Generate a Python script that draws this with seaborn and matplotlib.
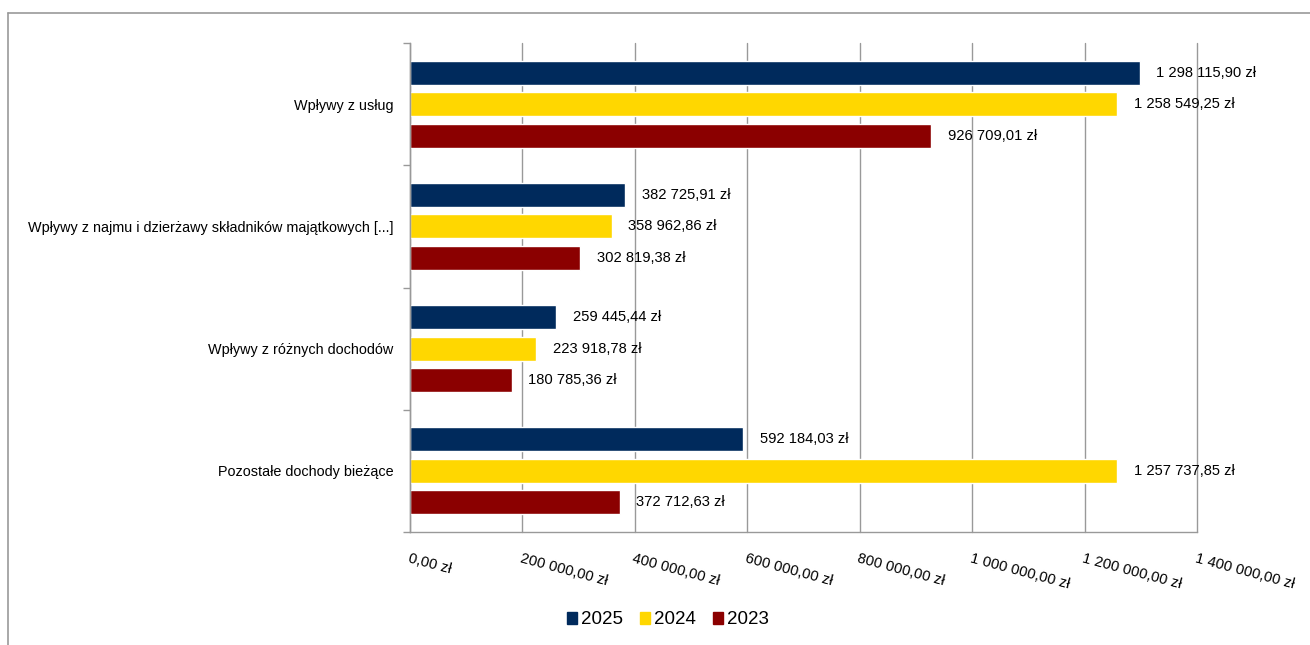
import pandas as pd
import numpy as np
import matplotlib
matplotlib.use('Agg')
import matplotlib.pyplot as plt
import seaborn as sns
from matplotlib.ticker import FuncFormatter
from matplotlib.lines import Line2D

# Dane z wykresu
kategorie = ['Wpływy z usług',
             'Wpływy z najmu i dzierżawy składników majątkowych [...]',
             'Wpływy z różnych dochodów',
             'Pozostałe dochody bieżące']
lata = ['2025', '2024', '2023']
wartosci_2025 = [1298115.90, 382725.91, 259445.44, 592184.03]
wartosci_2024 = [1258549.25, 358962.86, 223918.78, 1257737.85]
wartosci_2023 = [926709.01, 302819.38, 180785.36, 372712.63]
kolory = ['#002A5C', '#FFD700', '#8B0000']


def format_zl(v):
    """Formatuje kwotę w stylu polskim"""
    return f"{v:,.2f}".replace(",", " ").replace(".", ",") + " zł"


df = pd.DataFrame({
    'kategoria': kategorie * 3,
    'rok': ['2025'] * 4 + ['2024'] * 4 + ['2023'] * 4,
    'wartosc': wartosci_2025 + wartosci_2024 + wartosci_2023,
})

sns.set_style('white')
plt.rcParams['font.family'] = ['Liberation Sans', 'DejaVu Sans']
plt.rcParams['text.color'] = 'black'
plt.rcParams['xtick.labelcolor'] = 'black'
plt.rcParams['ytick.labelcolor'] = 'black'

fig = plt.figure(figsize=(13.1, 6.45), dpi=100)
ax = fig.add_axes([410 / 1310, 1 - 532 / 645, 787 / 1310, 489 / 645])

sns.barplot(data=df, y='kategoria', x='wartosc', hue='rok', hue_order=lata,
            order=kategorie, palette=kolory, width=0.775, gap=0.24,
            orient='h', ax=ax, legend=False, saturation=1)

# Etykiety wartości
for cont, rok in zip(ax.containers, lata):
    vals = df[df['rok'] == rok].set_index('kategoria').loc[kategorie, 'wartosc']
    ax.bar_label(cont, labels=[format_zl(v) for v in vals], padding=12,
                 fontsize=10.6, color='black')

ax.set_xlim(0, 1400000)
ax.set_ylim(3.5, -0.5)
ax.set_xticks(np.arange(0, 1400001, 200000))
ax.xaxis.set_major_formatter(FuncFormatter(lambda v, p: format_zl(v)))
for lab in ax.get_xticklabels():
    lab.set_rotation(-15)
    lab.set_ha('left')
    lab.set_va('top')
    lab.set_rotation_mode('anchor')
ax.tick_params(axis='x', length=8, width=1, color='#999999', labelsize=10.6, pad=6)

ax.set_yticks([-0.5, 0.5, 1.5, 2.5, 3.5], minor=True)
ax.tick_params(axis='y', which='major', length=0, labelsize=10.4, pad=12)
ax.tick_params(axis='y', which='minor', length=5, width=1, color='#999999', left=True)

ax.grid(axis='x', color='#999999', linewidth=1)
for gl in ax.get_xgridlines():
    gl.set_clip_on(False)
ax.set_axisbelow(True)
for s in ['top', 'right']:
    ax.spines[s].set_visible(False)
for s in ['left', 'bottom']:
    ax.spines[s].set_color('#999999')
    ax.spines[s].set_linewidth(1)
ax.set_xlabel('')
ax.set_ylabel('')

# Legenda
uchwyty = [plt.Rectangle((0, 0), 1, 1, color=c) for c in kolory]
fig.legend(uchwyty, lata, loc='center', bbox_to_anchor=(668 / 1310, 1 - 620 / 645),
           ncol=3, frameon=False, fontsize=13.5, handlelength=0.55, handleheight=0.55,
           handletextpad=0.2, columnspacing=0.9)

# Ramka wykresu
fig.add_artist(Line2D([8 / 1310, 8 / 1310], [0, 1 - 13 / 645], color='#999999', linewidth=1.2))
fig.add_artist(Line2D([8 / 1310, 1], [1 - 13 / 645, 1 - 13 / 645], color='#999999', linewidth=1.2))

plt.savefig('out.png', dpi=100)
plt.close()
